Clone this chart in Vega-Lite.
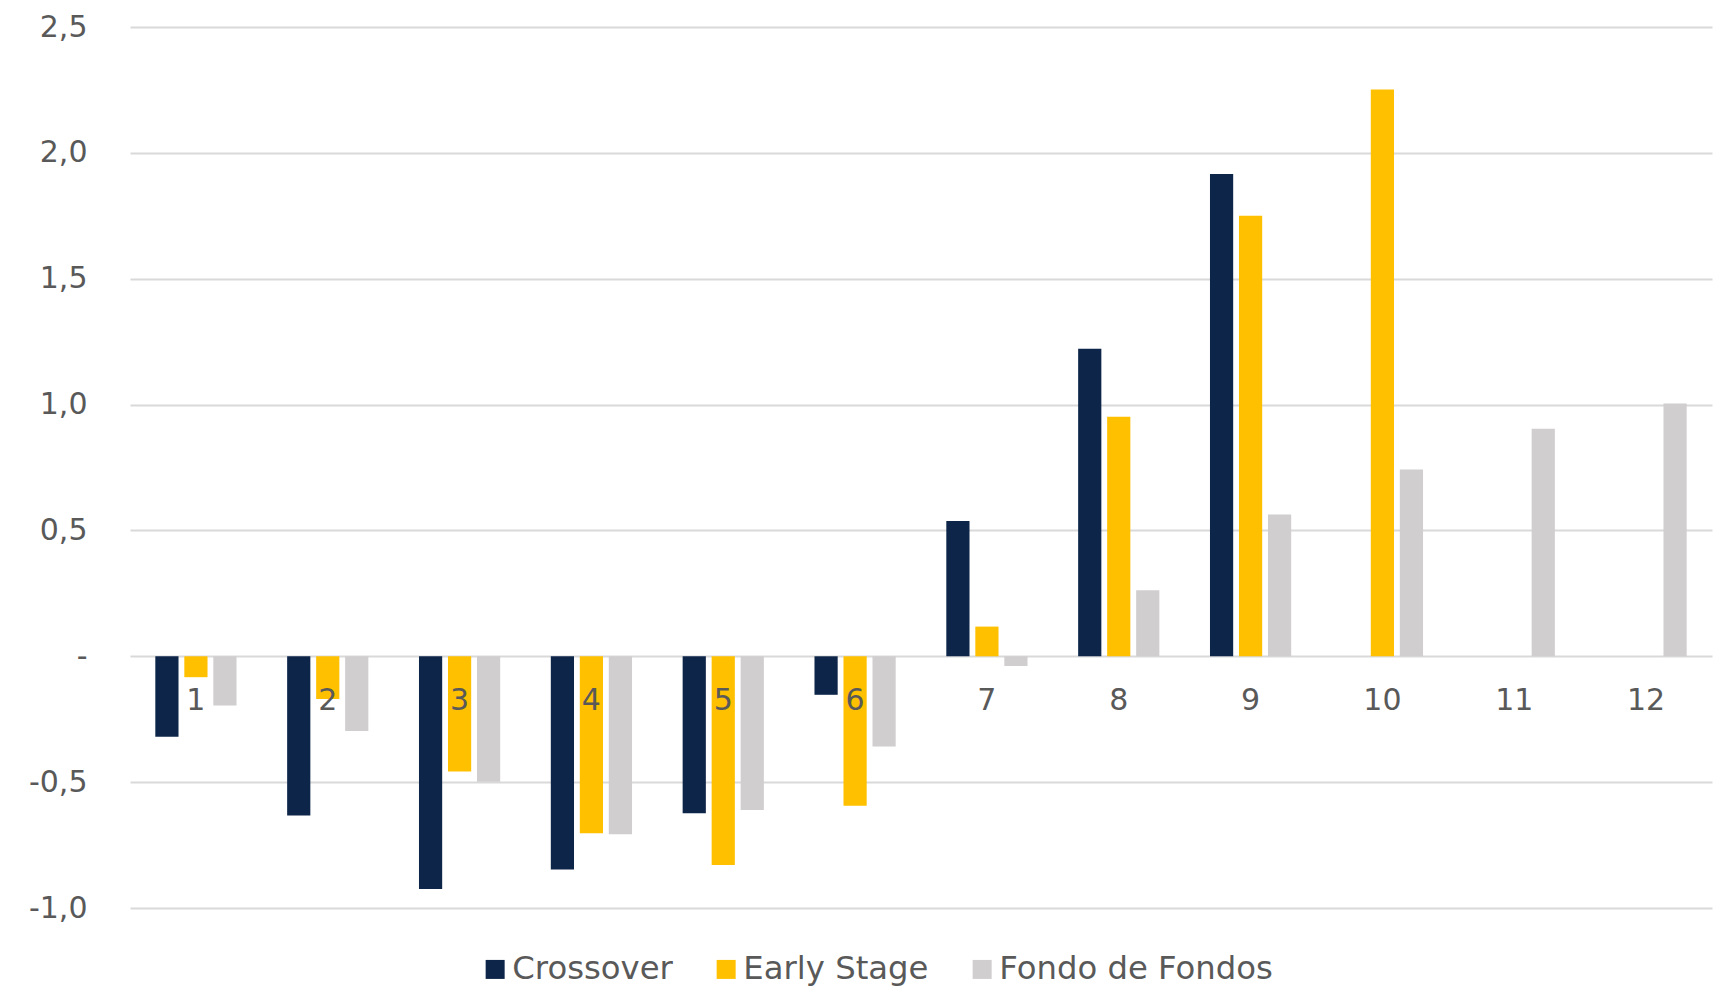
{
  "$schema": "https://vega.github.io/schema/vega-lite/v6.json",
  "autosize": "none",
  "width": 1582,
  "height": 881,
  "padding": {"left": 130, "top": 27, "right": 11, "bottom": 86},
  "background": "#ffffff",
  "data": {
    "values": [
      {"periodo": 1, "serie": "Crossover", "valor": -0.32},
      {"periodo": 1, "serie": "Early Stage", "valor": -0.083},
      {"periodo": 1, "serie": "Fondo de Fondos", "valor": -0.196},
      {"periodo": 2, "serie": "Crossover", "valor": -0.633},
      {"periodo": 2, "serie": "Early Stage", "valor": -0.17},
      {"periodo": 2, "serie": "Fondo de Fondos", "valor": -0.297},
      {"periodo": 3, "serie": "Crossover", "valor": -0.925},
      {"periodo": 3, "serie": "Early Stage", "valor": -0.458},
      {"periodo": 3, "serie": "Fondo de Fondos", "valor": -0.498},
      {"periodo": 4, "serie": "Crossover", "valor": -0.847},
      {"periodo": 4, "serie": "Early Stage", "valor": -0.703},
      {"periodo": 4, "serie": "Fondo de Fondos", "valor": -0.707},
      {"periodo": 5, "serie": "Crossover", "valor": -0.624},
      {"periodo": 5, "serie": "Early Stage", "valor": -0.829},
      {"periodo": 5, "serie": "Fondo de Fondos", "valor": -0.611},
      {"periodo": 6, "serie": "Crossover", "valor": -0.153},
      {"periodo": 6, "serie": "Early Stage", "valor": -0.594},
      {"periodo": 6, "serie": "Fondo de Fondos", "valor": -0.358},
      {"periodo": 7, "serie": "Crossover", "valor": 0.537},
      {"periodo": 7, "serie": "Early Stage", "valor": 0.118},
      {"periodo": 7, "serie": "Fondo de Fondos", "valor": -0.039},
      {"periodo": 8, "serie": "Crossover", "valor": 1.222},
      {"periodo": 8, "serie": "Early Stage", "valor": 0.952},
      {"periodo": 8, "serie": "Fondo de Fondos", "valor": 0.262},
      {"periodo": 9, "serie": "Crossover", "valor": 1.916},
      {"periodo": 9, "serie": "Early Stage", "valor": 1.75},
      {"periodo": 9, "serie": "Fondo de Fondos", "valor": 0.563},
      {"periodo": 10, "serie": "Early Stage", "valor": 2.252},
      {"periodo": 10, "serie": "Fondo de Fondos", "valor": 0.742},
      {"periodo": 11, "serie": "Fondo de Fondos", "valor": 0.904},
      {"periodo": 12, "serie": "Fondo de Fondos", "valor": 1.004}
    ]
  },
  "mark": {"type": "bar"},
  "encoding": {
    "x": {
      "field": "periodo",
      "type": "ordinal",
      "sort": "ascending",
      "scale": {"paddingInner": 0.384, "paddingOuter": 0.192},
      "axis": {
        "title": null,
        "orient": "bottom",
        "offset": -251,
        "zindex": 1,
        "domain": false,
        "ticks": false,
        "tickSize": 0,
        "labelAngle": 0,
        "labelPadding": 28,
        "labelFont": "DejaVu Sans",
        "labelFontSize": 30,
        "labelColor": "#595959",
        "grid": false
      }
    },
    "xOffset": {
      "field": "serie",
      "type": "nominal",
      "scale": {"domain": ["Crossover", "Early Stage", "Fondo de Fondos"], "paddingInner": 0.2, "paddingOuter": 0}
    },
    "y": {
      "field": "valor",
      "type": "quantitative",
      "scale": {"domain": [-1, 2.5], "nice": false, "zero": true},
      "axis": {
        "title": null,
        "values": [-1, -0.5, 0, 0.5, 1, 1.5, 2, 2.5],
        "labelExpr": "datum.value == 0 ? '-' : (datum.value < 0 ? '-' : '') + replace(format(abs(datum.value), '.1f'), '.', ',')",
        "domain": false,
        "ticks": false,
        "labelPadding": 43,
        "labelFont": "DejaVu Sans",
        "labelFontSize": 30,
        "labelColor": "#595959",
        "grid": true,
        "gridColor": "#d9d9d9",
        "gridWidth": 2
      }
    },
    "color": {
      "field": "serie",
      "type": "nominal",
      "scale": {"domain": ["Crossover", "Early Stage", "Fondo de Fondos"], "range": ["#0d2549", "#ffc000", "#d0cece"]},
      "legend": {
        "title": null,
        "orient": "none",
        "direction": "horizontal",
        "legendX": 349,
        "legendY": 926,
        "symbolType": "square",
        "symbolSize": 361,
        "symbolStrokeWidth": 0,
        "symbolOpacity": 1,
        "labelOffset": 1,
        "columnPadding": 37,
        "labelFont": "DejaVu Sans",
        "labelFontSize": 32.3,
        "labelColor": "#595959",
        "labelLimit": 0
      }
    }
  },
  "config": {"view": {"stroke": null}}
}
